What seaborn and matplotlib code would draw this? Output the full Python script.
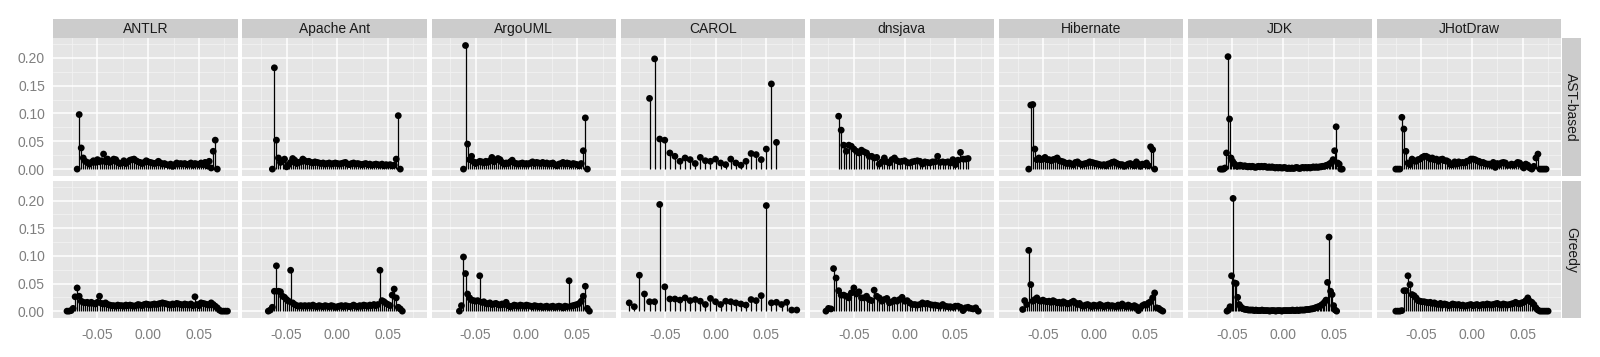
import numpy as np
import pandas as pd
import matplotlib
matplotlib.use('Agg')
import matplotlib.pyplot as plt
import seaborn as sns

# facets
projects = ['ANTLR', 'Apache Ant', 'ArgoUML', 'CAROL', 'dnsjava', 'Hibernate', 'JDK', 'JHotDraw']
methods = ['AST-based', 'Greedy']

# first bin centre and bin width per panel (project, method)
bin_start = {
    ('ANTLR', 'AST-based'): (-0.070, 0.002), ('ANTLR', 'Greedy'): (-0.080, 0.002),
    ('Apache Ant', 'AST-based'): (-0.064, 0.002), ('Apache Ant', 'Greedy'): (-0.068, 0.002),
    ('ArgoUML', 'AST-based'): (-0.062, 0.002), ('ArgoUML', 'Greedy'): (-0.066, 0.002),
    ('CAROL', 'AST-based'): (-0.065, 0.005), ('CAROL', 'Greedy'): (-0.085, 0.005),
    ('dnsjava', 'AST-based'): (-0.065, 0.0025), ('dnsjava', 'Greedy'): (-0.0775, 0.0025),
    ('Hibernate', 'AST-based'): (-0.064, 0.002), ('Hibernate', 'Greedy'): (-0.070, 0.002),
    ('JDK', 'AST-based'): (-0.0615, 0.0015), ('JDK', 'Greedy'): (-0.055, 0.0015),
    ('JHotDraw', 'AST-based'): (-0.075, 0.002), ('JHotDraw', 'Greedy'): (-0.075, 0.002),
}

antlr_ast = [0.000, 0.098, 0.038, 0.020, 0.014, 0.012, 0.009, 0.012, 0.015, 0.012,
             0.017, 0.013, 0.015, 0.027, 0.013, 0.018, 0.012, 0.014, 0.018, 0.017,
             0.012, 0.010, 0.011, 0.015, 0.010, 0.013, 0.016, 0.017, 0.018, 0.015,
             0.013, 0.012, 0.010, 0.012, 0.015, 0.013, 0.012, 0.011, 0.010, 0.011,
             0.014, 0.011, 0.009, 0.010, 0.008, 0.007, 0.009, 0.005, 0.008, 0.011,
             0.009, 0.010, 0.009, 0.010, 0.008, 0.009, 0.011, 0.007, 0.010, 0.009,
             0.008, 0.011, 0.008, 0.012, 0.006, 0.014, 0.002, 0.032, 0.052, 0.000]
antlr_greedy = [0.000, 0.000, 0.001, 0.005, 0.026, 0.042, 0.027, 0.018, 0.016, 0.015,
                0.016, 0.014, 0.016, 0.014, 0.013, 0.016, 0.027, 0.014, 0.013, 0.015,
                0.012, 0.011, 0.010, 0.010, 0.009, 0.011, 0.010, 0.010, 0.009, 0.011,
                0.010, 0.011, 0.010, 0.009, 0.010, 0.012, 0.011, 0.010, 0.012, 0.013,
                0.012, 0.011, 0.012, 0.013, 0.012, 0.013, 0.014, 0.015, 0.014, 0.013,
                0.012, 0.011, 0.013, 0.012, 0.014, 0.013, 0.012, 0.011, 0.013, 0.012,
                0.011, 0.013, 0.010, 0.026, 0.012, 0.010, 0.015, 0.014, 0.013, 0.012,
                0.011, 0.015, 0.012, 0.009, 0.006, 0.002, 0.000, 0.000, 0.000, 0.000]
ant_ast = [0.000, 0.182, 0.052, 0.020, 0.012, 0.015, 0.018, 0.004, 0.008, 0.012,
           0.019, 0.016, 0.010, 0.012, 0.013, 0.018, 0.015, 0.013, 0.014, 0.012,
           0.011, 0.013, 0.012, 0.011, 0.010, 0.011, 0.009, 0.010, 0.011, 0.009,
           0.010, 0.011, 0.010, 0.009, 0.010, 0.011, 0.012, 0.009, 0.008, 0.010,
           0.011, 0.009, 0.010, 0.009, 0.008, 0.009, 0.010, 0.008, 0.009, 0.007,
           0.008, 0.009, 0.008, 0.007, 0.009, 0.006, 0.008, 0.007, 0.008, 0.006,
           0.007, 0.018, 0.096, 0.000]
ant_greedy = [0.000, 0.002, 0.007, 0.036, 0.082, 0.036, 0.035, 0.027, 0.025, 0.021,
              0.018, 0.074, 0.015, 0.012, 0.010, 0.009, 0.010, 0.009, 0.010, 0.009,
              0.010, 0.009, 0.011, 0.009, 0.008, 0.010, 0.009, 0.008, 0.010, 0.009,
              0.008, 0.010, 0.009, 0.007, 0.008, 0.009, 0.010, 0.008, 0.010, 0.009,
              0.008, 0.009, 0.011, 0.009, 0.008, 0.010, 0.009, 0.011, 0.010, 0.009,
              0.011, 0.010, 0.012, 0.010, 0.012, 0.074, 0.019, 0.017, 0.014, 0.012,
              0.010, 0.029, 0.040, 0.024, 0.007, 0.004, 0.000]
argo_ast = [0.000, 0.222, 0.045, 0.017, 0.023, 0.013, 0.010, 0.012, 0.014, 0.013,
            0.011, 0.014, 0.012, 0.015, 0.021, 0.013, 0.016, 0.019, 0.017, 0.012,
            0.009, 0.011, 0.010, 0.013, 0.016, 0.011, 0.010, 0.009, 0.010, 0.011,
            0.009, 0.010, 0.009, 0.011, 0.013, 0.010, 0.012, 0.011, 0.010, 0.012,
            0.010, 0.011, 0.009, 0.010, 0.011, 0.008, 0.006, 0.009, 0.010, 0.012,
            0.009, 0.011, 0.010, 0.008, 0.010, 0.009, 0.008, 0.006, 0.010, 0.033,
            0.092, 0.000]
argo_greedy = [0.000, 0.010, 0.098, 0.068, 0.031, 0.024, 0.020, 0.019, 0.018, 0.019,
               0.064, 0.016, 0.017, 0.014, 0.013, 0.015, 0.012, 0.013, 0.014, 0.012,
               0.011, 0.013, 0.012, 0.016, 0.010, 0.008, 0.009, 0.011, 0.010, 0.009,
               0.011, 0.010, 0.009, 0.011, 0.010, 0.009, 0.008, 0.010, 0.009, 0.008,
               0.009, 0.007, 0.008, 0.009, 0.007, 0.008, 0.009, 0.007, 0.008, 0.009,
               0.008, 0.006, 0.009, 0.008, 0.055, 0.009, 0.010, 0.011, 0.012, 0.014,
               0.018, 0.027, 0.045, 0.005, 0.000]
carol_ast = [0.127, 0.198, 0.054, 0.052, 0.029, 0.023, 0.014, 0.020, 0.017, 0.010,
             0.021, 0.015, 0.014, 0.018, 0.011, 0.008, 0.018, 0.011, 0.007, 0.014,
             0.028, 0.026, 0.017, 0.036, 0.153, 0.048]
carol_greedy = [0.015, 0.008, 0.065, 0.031, 0.017, 0.017, 0.193, 0.044, 0.022, 0.022,
                0.020, 0.024, 0.019, 0.021, 0.018, 0.012, 0.023, 0.017, 0.012, 0.018,
                0.017, 0.015, 0.013, 0.011, 0.021, 0.019, 0.028, 0.191, 0.015, 0.016,
                0.012, 0.016, 0.002, 0.002]
dns_ast = [0.095, 0.070, 0.043, 0.032, 0.043, 0.041, 0.036, 0.032, 0.029, 0.034,
           0.031, 0.029, 0.023, 0.023, 0.020, 0.021, 0.009, 0.013, 0.020, 0.013,
           0.011, 0.017, 0.020, 0.015, 0.013, 0.014, 0.015, 0.012, 0.011, 0.013,
           0.014, 0.015, 0.014, 0.009, 0.013, 0.012, 0.011, 0.013, 0.013, 0.023,
           0.012, 0.013, 0.012, 0.013, 0.011, 0.017, 0.008, 0.016, 0.030, 0.018,
           0.018, 0.019]
dns_greedy = [0.000, 0.005, 0.004, 0.077, 0.060, 0.037, 0.029, 0.029, 0.027, 0.024,
              0.033, 0.042, 0.031, 0.035, 0.024, 0.024, 0.027, 0.021, 0.019, 0.038,
              0.027, 0.024, 0.018, 0.021, 0.023, 0.015, 0.017, 0.020, 0.018, 0.021,
              0.025, 0.018, 0.019, 0.015, 0.012, 0.012, 0.011, 0.012, 0.015, 0.013,
              0.014, 0.012, 0.011, 0.011, 0.010, 0.009, 0.012, 0.009, 0.008, 0.008,
              0.007, 0.009, 0.009, 0.007, 0.001, 0.006, 0.007, 0.005, 0.004, 0.006,
              0.000]
hib_ast = [0.000, 0.115, 0.116, 0.036, 0.017, 0.020, 0.017, 0.018, 0.021, 0.017,
           0.017, 0.015, 0.017, 0.018, 0.020, 0.015, 0.014, 0.013, 0.011, 0.010,
           0.011, 0.009, 0.008, 0.012, 0.013, 0.010, 0.008, 0.009, 0.010, 0.011,
           0.013, 0.012, 0.011, 0.010, 0.009, 0.008, 0.007, 0.008, 0.006, 0.009,
           0.010, 0.012, 0.013, 0.011, 0.009, 0.008, 0.008, 0.005, 0.007, 0.009,
           0.010, 0.008, 0.006, 0.013, 0.009, 0.005, 0.009, 0.008, 0.011, 0.006,
           0.040, 0.035, 0.000]
hib_greedy = [0.003, 0.019, 0.012, 0.110, 0.048, 0.018, 0.021, 0.024, 0.019, 0.018,
              0.020, 0.018, 0.017, 0.018, 0.016, 0.019, 0.017, 0.015, 0.016, 0.014,
              0.017, 0.015, 0.013, 0.014, 0.016, 0.018, 0.015, 0.012, 0.014, 0.010,
              0.009, 0.011, 0.012, 0.010, 0.008, 0.011, 0.010, 0.009, 0.012, 0.010,
              0.008, 0.010, 0.011, 0.009, 0.010, 0.009, 0.008, 0.011, 0.009, 0.013,
              0.010, 0.008, 0.011, 0.009, 0.007, 0.010, 0.008, 0.001, 0.006, 0.010,
              0.012, 0.011, 0.015, 0.017, 0.024, 0.033, 0.006, 0.005, 0.002, 0.000]
jdk_ast = [0.000, 0.000, 0.000, 0.002, 0.029, 0.202, 0.090, 0.020, 0.014, 0.010,
           0.007, 0.005, 0.006, 0.007, 0.006, 0.005, 0.006, 0.005, 0.004, 0.005,
           0.004, 0.005, 0.004, 0.003, 0.004, 0.005, 0.004, 0.005, 0.004, 0.005,
           0.004, 0.003, 0.004, 0.003, 0.004, 0.003, 0.002, 0.003, 0.002, 0.003,
           0.002, 0.002, 0.003, 0.002, 0.001, 0.002, 0.001, 0.002, 0.001, 0.002,
           0.003, 0.002, 0.001, 0.002, 0.003, 0.002, 0.003, 0.002, 0.003, 0.002,
           0.003, 0.004, 0.003, 0.004, 0.003, 0.004, 0.004, 0.005, 0.005, 0.006,
           0.007, 0.008, 0.010, 0.012, 0.017, 0.033, 0.076, 0.011, 0.009, 0.000,
           0.000]
jdk_greedy = [0.000, 0.002, 0.008, 0.064, 0.204, 0.051, 0.050, 0.025, 0.012, 0.008,
              0.005, 0.004, 0.003, 0.003, 0.002, 0.002, 0.002, 0.002, 0.001, 0.002,
              0.001, 0.001, 0.001, 0.002, 0.001, 0.001, 0.001, 0.001, 0.000, 0.001,
              0.001, 0.001, 0.000, 0.001, 0.001, 0.001, 0.000, 0.001, 0.001, 0.001,
              0.001, 0.001, 0.001, 0.002, 0.001, 0.001, 0.002, 0.001, 0.002, 0.002,
              0.002, 0.002, 0.003, 0.003, 0.003, 0.004, 0.004, 0.005, 0.006, 0.007,
              0.008, 0.009, 0.011, 0.013, 0.016, 0.020, 0.052, 0.134, 0.036, 0.030,
              0.010, 0.002, 0.000]
jhd_ast = [0.000, 0.000, 0.000, 0.093, 0.072, 0.032, 0.011, 0.008, 0.018, 0.015,
           0.014, 0.017, 0.018, 0.021, 0.023, 0.023, 0.021, 0.018, 0.020, 0.017,
           0.018, 0.014, 0.017, 0.018, 0.015, 0.015, 0.013, 0.008, 0.008, 0.013,
           0.009, 0.013, 0.011, 0.012, 0.011, 0.014, 0.015, 0.018, 0.018, 0.017,
           0.015, 0.014, 0.011, 0.012, 0.010, 0.009, 0.009, 0.007, 0.012, 0.003,
           0.010, 0.008, 0.011, 0.012, 0.011, 0.007, 0.007, 0.009, 0.007, 0.009,
           0.012, 0.011, 0.007, 0.002, 0.009, 0.007, 0.002, 0.000, 0.005, 0.020,
           0.027, 0.000, 0.000, 0.000, 0.000]
jhd_greedy = [0.000, 0.000, 0.000, 0.001, 0.037, 0.037, 0.064, 0.048, 0.030, 0.028,
              0.024, 0.019, 0.018, 0.017, 0.017, 0.016, 0.015, 0.016, 0.014, 0.015,
              0.013, 0.012, 0.014, 0.011, 0.013, 0.012, 0.010, 0.011, 0.013, 0.012,
              0.011, 0.012, 0.010, 0.011, 0.009, 0.010, 0.011, 0.012, 0.010, 0.011,
              0.012, 0.010, 0.011, 0.012, 0.011, 0.013, 0.012, 0.011, 0.012, 0.013,
              0.014, 0.012, 0.011, 0.013, 0.012, 0.011, 0.012, 0.013, 0.014, 0.016,
              0.014, 0.013, 0.015, 0.016, 0.019, 0.024, 0.018, 0.016, 0.012, 0.006,
              0.002, 0.000, 0.000, 0.000, 0.000, 0.000]

values = {
    ('ANTLR', 'AST-based'): antlr_ast, ('ANTLR', 'Greedy'): antlr_greedy,
    ('Apache Ant', 'AST-based'): ant_ast, ('Apache Ant', 'Greedy'): ant_greedy,
    ('ArgoUML', 'AST-based'): argo_ast, ('ArgoUML', 'Greedy'): argo_greedy,
    ('CAROL', 'AST-based'): carol_ast, ('CAROL', 'Greedy'): carol_greedy,
    ('dnsjava', 'AST-based'): dns_ast, ('dnsjava', 'Greedy'): dns_greedy,
    ('Hibernate', 'AST-based'): hib_ast, ('Hibernate', 'Greedy'): hib_greedy,
    ('JDK', 'AST-based'): jdk_ast, ('JDK', 'Greedy'): jdk_greedy,
    ('JHotDraw', 'AST-based'): jhd_ast, ('JHotDraw', 'Greedy'): jhd_greedy,
}

rows = []
for key, ys in values.items():
    x0, step = bin_start[key]
    for i, v in enumerate(ys):
        rows.append({'project': key[0], 'method': key[1], 'x': x0 + i * step, 'y': v})
df = pd.DataFrame(rows)

sns.set_theme(style='darkgrid', rc={
    'axes.facecolor': '#E5E5E5', 'grid.color': 'white', 'grid.linewidth': 1.1,
    'xtick.color': '#7F7F7F', 'ytick.color': '#7F7F7F',
})
plt.rcParams['font.family'] = ['Liberation Sans', 'DejaVu Sans']

W, H = 1600, 357
fig = plt.figure(figsize=(16, 3.57), dpi=100)

pan_w = 184.3
row_px = {'AST-based': (38, 176), 'Greedy': (181, 318)}
xlim = (-0.0935, 0.0880)
ylim = (-0.0124, 0.2355)

for ci, proj in enumerate(projects):
    left = 53.3 + ci * 189.1
    for ri, meth in enumerate(methods):
        top, bot = row_px[meth]
        ax = fig.add_axes([left / W, 1 - bot / H, pan_w / W, (bot - top) / H])
        sub = df[(df.project == proj) & (df.method == meth)]
        for v in [-0.075, -0.025, 0.025, 0.075]:
            ax.axvline(v, color='#F2F2F2', lw=0.6, zorder=0.5)
        for v in [0.025, 0.075, 0.125, 0.175, 0.225]:
            ax.axhline(v, color='#F2F2F2', lw=0.6, zorder=0.5)
        ax.vlines(sub.x, 0, sub.y, color='black', lw=0.9, zorder=2)
        sns.scatterplot(data=sub, x='x', y='y', ax=ax, color='black', s=24,
                        edgecolor='none', linewidth=0, zorder=3, legend=False)
        ax.set_xlim(*xlim)
        ax.set_ylim(*ylim)
        ax.set_xticks([-0.05, 0.0, 0.05])
        ax.set_yticks([0.0, 0.05, 0.10, 0.15, 0.20])
        ax.set_xlabel('')
        ax.set_ylabel('')
        for s in ax.spines.values():
            s.set_visible(False)
        ax.tick_params(length=0, labelsize=10, labelcolor='#7F7F7F')
        if ci == 0:
            ax.set_yticklabels(['0.00', '0.05', '0.10', '0.15', '0.20'])
            ax.tick_params(axis='y', length=4, width=0.8, pad=2)
        else:
            ax.set_yticklabels([])
        if ri == 1:
            ax.set_xticklabels(['-0.05', '0.00', '0.05'])
            ax.tick_params(axis='x', length=4, width=0.8, pad=3)
        else:
            ax.set_xticklabels([])
    # top strip
    sax = fig.add_axes([left / W, 1 - 38 / H, pan_w / W, 19 / H])
    sax.set_facecolor('#CCCCCC')
    sax.set_xticks([])
    sax.set_yticks([])
    sax.grid(False)
    for s in sax.spines.values():
        s.set_visible(False)
    sax.text(0.5, 0.45, proj, ha='center', va='center', fontsize=10, color='#1A1A1A',
             transform=sax.transAxes)

for meth in methods:
    top, bot = row_px[meth]
    rax = fig.add_axes([1561.5 / W, 1 - bot / H, 19 / W, (bot - top) / H])
    rax.set_facecolor('#CCCCCC')
    rax.set_xticks([])
    rax.set_yticks([])
    rax.grid(False)
    for s in rax.spines.values():
        s.set_visible(False)
    rax.text(0.5, 0.5, meth, ha='center', va='center', rotation=-90, fontsize=10,
             color='#1A1A1A', transform=rax.transAxes)

fig.savefig('out.png', dpi=100, facecolor='white')
